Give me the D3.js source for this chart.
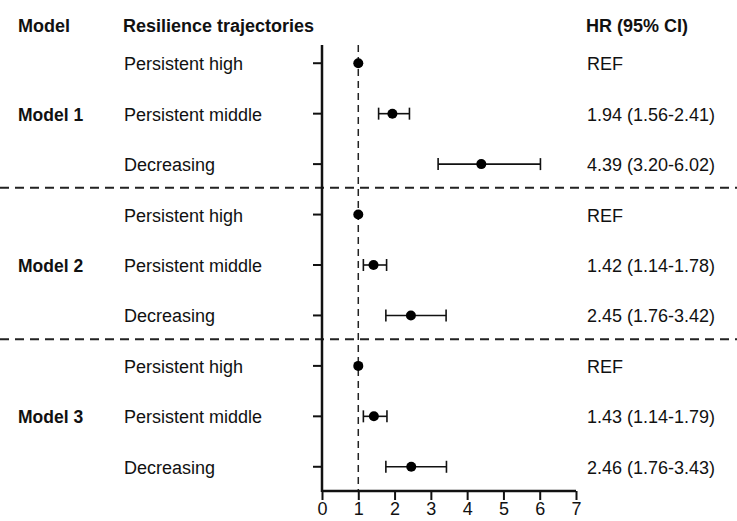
<!DOCTYPE html>
<meta charset="utf-8">
<style>
  body { margin: 0; background: #fff; }
  text { font-family: "Liberation Sans", Arial, sans-serif; fill: #111; }
</style>
<svg width="737" height="521"></svg>
<script src="https://d3js.org/d3.v7.min.js"></script>
<script>
    // data
    var models = ["Model 1", "Model 2", "Model 3"];
    var trajectories = ["Persistent high", "Persistent middle", "Decreasing"];
    var hr = [1, 1.94, 4.39, 1, 1.42, 2.45, 1, 1.43, 2.46];
    var lower = [null, 1.56, 3.20, null, 1.14, 1.76, null, 1.14, 1.76];
    var upper = [null, 2.41, 6.02, null, 1.78, 3.42, null, 1.79, 3.43];
    var hrLabels = ["REF", "1.94 (1.56-2.41)", "4.39 (3.20-6.02)",
                    "REF", "1.42 (1.14-1.78)", "2.45 (1.76-3.42)",
                    "REF", "1.43 (1.14-1.79)", "2.46 (1.76-3.43)"];
    var xTicks = [0, 1, 2, 3, 4, 5, 6, 7];

    var rows = hr.map(function (d, i) {
        return {
            id: i,
            model: models[Math.floor(i / 3)],
            traj: trajectories[i % 3],
            hr: d, lo: lower[i], hi: upper[i], label: hrLabels[i]
        };
    });

    var svg = d3.select("svg");
    var x = d3.scaleLinear().domain([0, 7]).range([322, 576]);
    var y = d3.scaleBand().domain(d3.range(rows.length)).range([38, 492]);
    var yc = function (i) { return y(i) + y.bandwidth() / 2; };
    var axisY = 491;

    // headers
    var head = svg.append("g").style("font-weight", "bold").style("font-size", "18px");
    head.append("text").attr("x", 18).attr("y", 32).text("Model");
    head.append("text").attr("x", 123).attr("y", 32).text("Resilience trajectories");
    head.append("text").attr("x", 586).attr("y", 32).text("HR (95% CI)");

    // model group separators
    [3, 6].forEach(function (i) {
        svg.append("line")
            .attr("x1", 0).attr("x2", 737)
            .attr("y1", y(i) - 1.5).attr("y2", y(i) - 1.5)
            .attr("stroke", "#222").attr("stroke-width", 2)
            .attr("stroke-dasharray", "9,6");
    });

    // reference line at HR = 1
    svg.append("line")
        .attr("x1", x(1)).attr("x2", x(1))
        .attr("y1", 45).attr("y2", axisY)
        .attr("stroke", "#222").attr("stroke-width", 1.5)
        .attr("stroke-dasharray", "7,5");

    // vertical axis with row ticks
    svg.append("line")
        .attr("x1", x(0)).attr("x2", x(0))
        .attr("y1", 45).attr("y2", axisY + 1)
        .attr("stroke", "#111").attr("stroke-width", 2.5);
    svg.selectAll(".rtick").data(rows).enter().append("line")
        .attr("x1", x(0) - 9).attr("x2", x(0))
        .attr("y1", function (d) { return yc(d.id); })
        .attr("y2", function (d) { return yc(d.id); })
        .attr("stroke", "#111").attr("stroke-width", 2);

    // x axis
    var xAxis = svg.append("g")
        .attr("transform", "translate(0," + axisY + ")")
        .call(d3.axisBottom(x).tickValues(xTicks).tickSize(9).tickPadding(2).tickFormat(d3.format("d")));
    xAxis.select(".domain").attr("stroke", "#111").attr("stroke-width", 2.5)
        .attr("d", "M" + x(0) + ",0H" + x(7));
    xAxis.selectAll(".tick line").attr("stroke", "#111").attr("stroke-width", 2);
    xAxis.selectAll(".tick text").style("font-size", "18px")
        .style("font-family", "Liberation Sans, Arial, sans-serif").attr("fill", "#111");

    // error bars
    var ci = rows.filter(function (d) { return d.lo !== null; });
    var bars = svg.selectAll(".ci").data(ci).enter().append("g")
        .attr("stroke", "#111").attr("stroke-width", 1.6);
    bars.append("line")
        .attr("x1", function (d) { return x(d.lo); })
        .attr("x2", function (d) { return x(d.hi); })
        .attr("y1", function (d) { return yc(d.id); })
        .attr("y2", function (d) { return yc(d.id); });
    bars.append("line")
        .attr("x1", function (d) { return x(d.lo); })
        .attr("x2", function (d) { return x(d.lo); })
        .attr("y1", function (d) { return yc(d.id) - 6; })
        .attr("y2", function (d) { return yc(d.id) + 6; });
    bars.append("line")
        .attr("x1", function (d) { return x(d.hi); })
        .attr("x2", function (d) { return x(d.hi); })
        .attr("y1", function (d) { return yc(d.id) - 6; })
        .attr("y2", function (d) { return yc(d.id) + 6; });

    // points
    svg.selectAll(".pt").data(rows).enter().append("circle")
        .attr("cx", function (d) { return x(d.hr); })
        .attr("cy", function (d) { return yc(d.id); })
        .attr("r", 5).attr("fill", "#000");

    // row labels
    svg.selectAll(".traj").data(rows).enter().append("text")
        .attr("x", 124).attr("y", function (d) { return yc(d.id) + 7; })
        .style("font-size", "18px").text(function (d) { return d.traj; });
    svg.selectAll(".hrl").data(rows).enter().append("text")
        .attr("x", 587).attr("y", function (d) { return yc(d.id) + 7; })
        .style("font-size", "18px").text(function (d) { return d.label; });
    svg.selectAll(".model").data(models).enter().append("text")
        .attr("x", 18).attr("y", function (d, i) { return yc(i * 3 + 1) + 7; })
        .style("font-size", "17.5px").style("font-weight", "bold").text(function (d) { return d; });
</script>
